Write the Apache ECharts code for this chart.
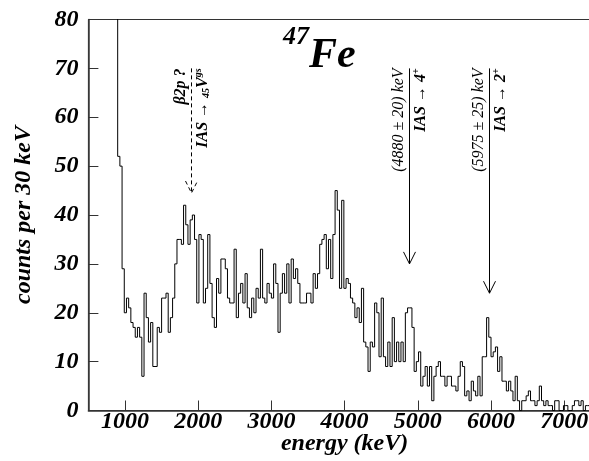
<!DOCTYPE html>
<html><head><meta charset="utf-8">
<script src="https://cdn.jsdelivr.net/npm/echarts@6/dist/echarts.min.js"></script>
<style>html,body{margin:0;padding:0;background:#fff}#c{width:589px;height:461px}</style>
</head><body><div id="c"></div>
<script>
// histogram: left bin edge (keV), bin width (keV) and counts per bin (first bin is off-scale)
const binStart = 870;
const binWidth = 30;
const counts = [120,
52,50,29,20,23,21,18,17,15,17,
15,7,24,19,14,18,9,9,17,16,
23,23,24,16,19,23,30,35,35,34,
42,38,34,39,40,35,22,36,35,22,
25,36,26,19,17,27,24,31,31,29,
23,22,22,33,19,24,26,22,28,21,
19,23,20,25,23,33,23,22,26,24,
23,30,26,16,24,28,24,30,22,31,
27,29,26,22,22,22,24,24,22,28,
25,28,34,35,36,29,35,27,36,45,
41,25,43,25,27,26,23,22,19,21,
18,25,14,13,8,14,13,22,20,11,
23,11,9,14,9,19,10,14,10,14,
10,20,21,21,17,8,10,12,5,7,
9,5,9,2,7,9,10,7,7,5,
7,7,5,5,4,7,10,9,3,4,
2,6,4,3,7,3,11,11,19,15,
11,12,13,8,11,6,6,4,6,4,
2,7,2,0,2,2,3,4,2,2,
1,2,5,2,1,2,1,1,0,2,
2,0,0,1,1,0,0,1,2,2,
1,2,0,1,1];
const xTicks = [1000,2000,3000,4000,5000,6000,7000];
const yTicks = [0,10,20,30,40,50,60,70,80];
// annotation arrows: energy (keV), arrow top and tip (counts)
const arrowEnergies = [1900, 4880, 5975];
const arrowTops = [70, 70, 70];
const arrowTips = [44.5, 30, 24];

const serif = "'Liberation Serif','DejaVu Serif',serif";
const pts = counts.map((v, i) => [binStart + i * binWidth, v]);
pts.push([binStart + counts.length * binWidth, counts[counts.length - 1]]);

const chart = echarts.init(document.getElementById('c'), null, {renderer: 'canvas'});
const axisFont = {fontFamily: serif, fontWeight: 'bold', fontStyle: 'italic', color: '#000'};
chart.setOption({
  animation: false,
  backgroundColor: '#fff',
  grid: {left: 88.4, top: 19.5, width: 512.4, height: 391, show: true, borderColor: '#333', borderWidth: 1,
         containLabel: false, outerBoundsMode: 'none'},
  xAxis: {
    type: 'value', min: 500, max: 7500,
    axisLine: {show: true, lineStyle: {color: '#333', width: 1.5}},
    axisTick: {show: true, inside: true, length: 10, lineStyle: {color: '#333'}, customValues: xTicks},
    axisLabel: Object.assign({fontSize: 24, margin: -1, customValues: xTicks, formatter: v => String(v)}, axisFont),
    splitLine: {show: false},
    name: 'energy (keV)', nameLocation: 'middle', nameGap: 21, nameMoveOverlap: false,
    nameTextStyle: Object.assign({fontSize: 24}, axisFont)
  },
  yAxis: {
    type: 'value', min: 0, max: 80, interval: 10,
    axisLine: {show: true, lineStyle: {color: '#333', width: 1.5}},
    axisTick: {show: true, inside: true, length: 10, lineStyle: {color: '#333'}},
    axisLabel: Object.assign({fontSize: 24, margin: 10, formatter: v => String(v)}, axisFont),
    splitLine: {show: false},
    name: 'counts per 30 keV', nameLocation: 'middle', nameGap: 53, nameRotate: 90, nameMoveOverlap: false,
    nameTextStyle: Object.assign({fontSize: 24}, axisFont)
  },
  series: [{
    type: 'line', step: 'end', data: pts, symbol: 'none', clip: true,
    lineStyle: {color: '#000', width: 1}
  }]
});

const px = (e, v) => chart.convertToPixel({gridIndex: 0}, [e, v]);
const g = [];
const bi = {fontFamily: serif, fontWeight: 'bold', fontStyle: 'italic'};
const labelsLeft = ['{m|β2p ?}', '{n|(4880 ± 20) keV}', '{n|(5975 ± 25) keV}'];
const labelsRight = ['{m|IAS → }{s|45}{m|V}{u|gs}', '{m|IAS → 4}{u|+}', '{m|IAS → 2}{u|+}'];
const rich = {
  m: Object.assign({fontSize: 16, lineHeight: 18}, bi),
  n: {fontFamily: serif, fontStyle: 'italic', fontSize: 16, lineHeight: 18},
  u: Object.assign({fontSize: 10, lineHeight: 18, verticalAlign: 'top'}, bi),
  s: Object.assign({fontSize: 10, lineHeight: 18, verticalAlign: 'bottom'}, bi)
};
arrowEnergies.forEach((e, i) => {
  const t = px(e, arrowTops[i]);
  const p = px(e, arrowTips[i]);
  const x = Math.round(p[0]) + 0.5;
  const dash = i === 0 ? [4, 3] : null;
  const ls = {stroke: '#000', lineWidth: 1, lineDash: dash, fill: null};
  g.push({type: 'line', shape: {x1: x, y1: t[1], x2: x, y2: p[1]}, style: ls, silent: true});
  g.push({type: 'polyline', shape: {points: [[x - 6, p[1] - 12], [x, p[1]], [x + 6, p[1] - 12]]}, style: ls, silent: true});
  g.push({type: 'text', x: x - 1.5, y: t[1], rotation: Math.PI / 2,
    style: {text: labelsLeft[i], rich: rich, fill: '#000', align: 'right', verticalAlign: 'bottom'}, silent: true});
  g.push({type: 'text', x: x + 2, y: t[1], rotation: Math.PI / 2,
    style: {text: labelsRight[i], rich: rich, fill: '#000', align: 'right', verticalAlign: 'top'}, silent: true});
});
g.push({type: 'text', x: 283, y: 24, style: {text: '47', fontSize: 26, fontFamily: serif, fontWeight: 'bold', fontStyle: 'italic', fill: '#000', align: 'left', verticalAlign: 'top'}, silent: true});
g.push({type: 'text', x: 309, y: 35, style: {text: 'Fe', fontSize: 42, fontFamily: serif, fontWeight: 'bold', fontStyle: 'italic', fill: '#000', align: 'left', verticalAlign: 'top'}, silent: true});
chart.setOption({graphic: g});
</script></body></html>
